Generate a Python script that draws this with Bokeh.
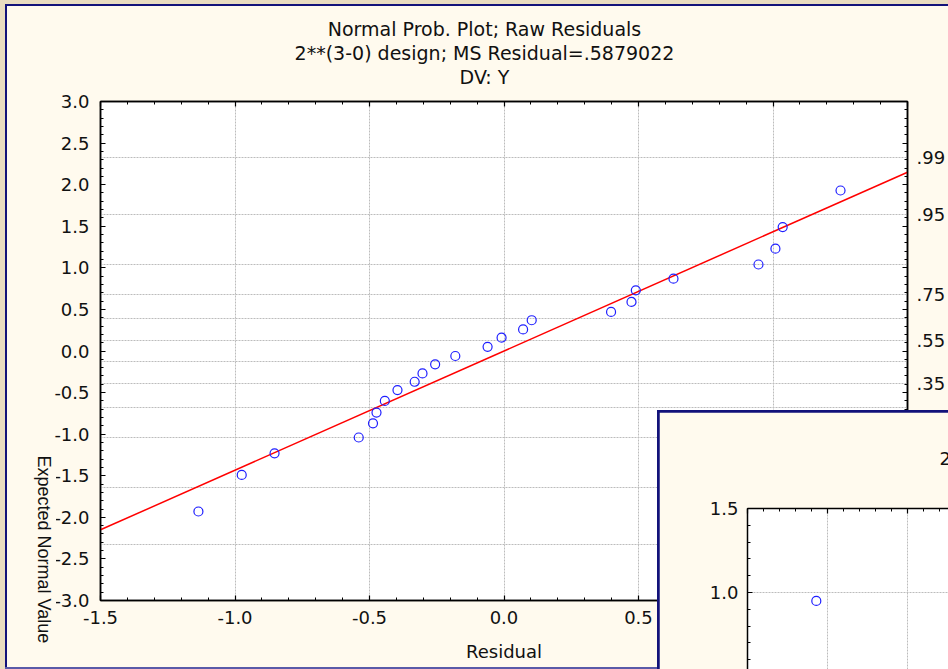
from math import pi
from statistics import NormalDist

from bokeh.plotting import figure
from bokeh.models import (Range1d, FixedTicker, SingleIntervalTicker, LinearAxis, Grid,
                          Div, PrintfTickFormatter, CustomJSTickFormatter)
from bokeh.layouts import column
from bokeh.core.properties import value
from bokeh.embed import file_html
from bokeh.resources import INLINE

# ---------------- data ----------------
residuals = [-1.136, -0.975, -0.853, -0.540, -0.487, -0.474, -0.443, -0.396,
             -0.332, -0.303, -0.256, -0.181, -0.061, -0.009, 0.071, 0.103,
             0.398, 0.474, 0.490, 0.630, 0.946, 1.009, 1.036, 1.251]
expected = [-1.93, -1.49, -1.23, -1.04, -0.87, -0.74, -0.60, -0.47,
            -0.37, -0.27, -0.16, -0.06, 0.05, 0.16, 0.26, 0.37,
            0.47, 0.59, 0.73, 0.87, 1.04, 1.23, 1.49, 1.93]
fit_x = [-1.5, 1.5]
fit_y = [-2.15, 2.15]

prob_labels = [".01", ".05", ".15", ".35", ".55", ".75", ".95", ".99"]
prob_values = [0.01, 0.05, 0.15, 0.35, 0.55, 0.75, 0.95, 0.99]
grid_probs = [0.01, 0.05, 0.15, 0.25, 0.35, 0.45, 0.55, 0.65, 0.75, 0.85, 0.95, 0.99]

title_lines = ["Normal Prob. Plot; Raw Residuals",
               "2**(3-0) design; MS Residual=.5879022",
               "DV: Y"]
x_label = "Residual"
y_label = "Expected Normal Value"

# second (overlapping) window
ov_x = [-1.07]
ov_y = [0.95]
ov_title = "2**(3-0) design; MS Residual=.5879022"

# ---------------- styling ----------------
CREAM = "#FFFAEE"
TAN = "#E9DCC0"
NAVY = "#12127A"
GRID = "#bcbcbc"
FONT = "DejaVu Sans"
INK = "#111111"

nd = NormalDist()
prob_z = [nd.inv_cdf(pv) for pv in prob_values]
grid_z = [nd.inv_cdf(pv) for pv in grid_probs]

blank_fmt = CustomJSTickFormatter(code='return "";')


def prepare(fig):
    """Opt out of frame alignment and drop the default (unplaced-axis) grids."""
    if "frame_align" in fig.properties():
        fig.frame_align = False
    fig.center = [c for c in fig.center if not isinstance(c, Grid)]
    return fig


def style_axis(ax, labels=True):
    ax.axis_line_width = 1.5
    ax.axis_line_color = "black"
    ax.major_tick_in = 5
    ax.major_tick_out = 0
    ax.minor_tick_in = 3
    ax.minor_tick_out = 0
    ax.major_tick_line_width = 1.2
    ax.minor_tick_line_width = 1
    ax.major_label_text_font = FONT
    ax.major_label_text_color = INK
    if labels:
        ax.major_label_text_font_size = "18px"
    else:
        ax.formatter = blank_fmt
        ax.major_label_text_font_size = "1px"
        ax.major_label_standoff = 0


def text_box(left, top, w, h):
    """A bare figure (frame = whole canvas, y pointing down) used to place text."""
    f = figure(width=w, height=h, x_range=Range1d(0, w), y_range=Range1d(h, 0),
               output_backend="svg", toolbar_location=None, title=None,
               x_axis_location=None, y_axis_location=None,
               min_border_left=0, min_border_right=0, min_border_top=0, min_border_bottom=0,
               background_fill_color=CREAM, border_fill_color=CREAM, outline_line_color=None,
               margin=0, styles={"position": "absolute", "left": f"{left}px", "top": f"{top}px"})
    return prepare(f)


# ---------------- main chart ----------------
p = figure(width=948, height=669, x_range=Range1d(-1.5, 1.5), y_range=Range1d(-3, 3),
           output_backend="svg", toolbar_location=None, title=None,
           x_axis_location=None, y_axis_location=None,
           min_border_left=100, min_border_right=41, min_border_top=101, min_border_bottom=69,
           background_fill_color="white", border_fill_color=CREAM,
           outline_line_color="black", outline_line_width=1.5, margin=0)
prepare(p)

xt = SingleIntervalTicker(interval=0.5, num_minor_ticks=5)
yt = SingleIntervalTicker(interval=0.5, num_minor_ticks=5)
fmt = PrintfTickFormatter(format="%.1f")

xb = LinearAxis(ticker=xt, formatter=fmt, axis_label=x_label)
style_axis(xb)
xb.major_label_standoff = 10
xb.axis_label_text_font = FONT
xb.axis_label_text_font_style = "normal"
xb.axis_label_text_font_size = "18px"
xb.axis_label_text_color = INK
xb.axis_label_standoff = 14
p.add_layout(xb, "below")

yl = LinearAxis(ticker=yt, formatter=fmt)
style_axis(yl)
yl.major_label_standoff = 11
p.add_layout(yl, "left")

xtop = LinearAxis(ticker=xt)
style_axis(xtop, labels=False)
p.add_layout(xtop, "above")

yr = LinearAxis(ticker=yt)
style_axis(yr, labels=False)
p.add_layout(yr, "right")

prob_fmt = CustomJSTickFormatter(args=dict(zs=prob_z, labs=prob_labels), code="""
const i = zs.findIndex(v => Math.abs(v - tick) < 1e-9);
return i >= 0 ? labs[i] : "";
""")
yr2 = LinearAxis(ticker=FixedTicker(ticks=prob_z, minor_ticks=[]), formatter=prob_fmt)
yr2.axis_line_color = None
yr2.major_tick_in = 0
yr2.major_tick_out = 0
yr2.minor_tick_in = 0
yr2.minor_tick_out = 0
yr2.major_label_standoff = 9
yr2.major_label_text_font = FONT
yr2.major_label_text_font_size = "18px"
yr2.major_label_text_color = INK
p.add_layout(yr2, "right")

p.add_layout(Grid(dimension=0, ticker=xt, grid_line_color=GRID, grid_line_dash="2 1"))
p.add_layout(Grid(dimension=1, ticker=FixedTicker(ticks=grid_z, minor_ticks=[]),
                  grid_line_color=GRID, grid_line_dash="2 1"))

p.line(fit_x, fit_y, line_color="#FF0000", line_width=1.5)
p.scatter(residuals, expected, marker="circle", size=9, fill_color=None,
          line_color="#1F1FFF", line_width=1.2)

# ---------------- three-line chart title ----------------
tbox = text_box(164, 10, 640, 82)
tbox.text(x=[320, 320, 320], y=[18, 42, 66], text=title_lines, text_align="center",
          text_baseline="middle", text_font=value(FONT), text_font_size="19px",
          text_color=INK)

# ---------------- vertical y-axis caption (reads top to bottom) ----------------
ylab = text_box(30, 453, 26, 205)
ylab.text(x=[13], y=[2], text=[y_label], angle=-pi / 2, text_align="left",
          text_baseline="middle", text_font=value("Liberation Sans"),
          text_font_size="18px", text_color=INK)


# ---------------- window frame decorations ----------------
def block(left, top, w, h, color):
    return Div(text="", width=w, height=h, margin=0,
               styles={"position": "absolute", "left": f"{left}px", "top": f"{top}px",
                       "background-color": color})


decor = [
    block(0, 0, 5, 669, TAN),
    block(0, 0, 948, 4, TAN),
    block(5, 4, 2, 665, NAVY),
    block(5, 4, 943, 2, NAVY),
    block(5, 667, 652, 2, "#5A5AA8"),
    block(657, 410, 291, 259, NAVY),
]

# ---------------- overlapping second window ----------------
p2 = figure(width=289, height=257, x_range=Range1d(-1.5, -0.24375), y_range=Range1d(0.5417, 1.5),
            output_backend="svg", toolbar_location=None, title=None,
            x_axis_location=None, y_axis_location=None,
            min_border_left=88, min_border_top=96, min_border_right=0, min_border_bottom=0,
            background_fill_color="white", border_fill_color=CREAM, outline_line_color=None,
            margin=0, styles={"position": "absolute", "left": "659px", "top": "412px"})
prepare(p2)

xt2 = SingleIntervalTicker(interval=0.5, num_minor_ticks=5)
yt2 = SingleIntervalTicker(interval=0.5, num_minor_ticks=5)
x2top = LinearAxis(ticker=xt2)
style_axis(x2top, labels=False)
p2.add_layout(x2top, "above")
y2l = LinearAxis(ticker=yt2, formatter=fmt)
style_axis(y2l)
y2l.major_label_standoff = 9
p2.add_layout(y2l, "left")
p2.add_layout(Grid(dimension=0, ticker=xt2, grid_line_color=GRID, grid_line_dash="2 1"))
p2.add_layout(Grid(dimension=1, ticker=yt2, grid_line_color=GRID, grid_line_dash="2 1"))
p2.scatter(ov_x, ov_y, marker="circle", size=9, fill_color=None,
           line_color="#1F1FFF", line_width=1.2)

# title of the second window: only its first character shows before the screen edge
t2box = text_box(939, 446, 9, 24)
t2box.text(x=[0], y=[12], text=[ov_title], text_align="left", text_baseline="middle",
           text_font=value(FONT), text_font_size="18px", text_color=INK)

layout = column(p, ylab, tbox, *decor, p2, t2box, margin=0)

open("out.html", "w").write(file_html(layout, INLINE))
